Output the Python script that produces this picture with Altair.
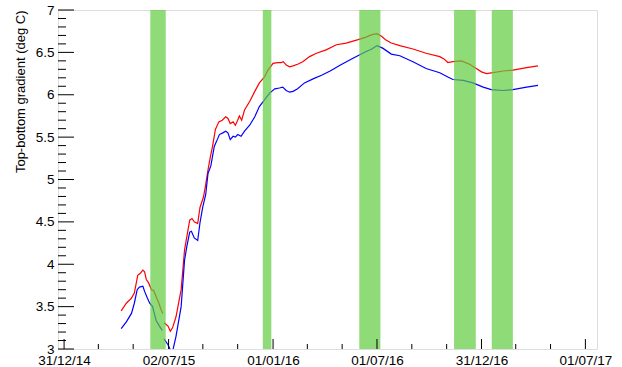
import altair as alt
import pandas as pd

# ---- temperature gradient series (deg C) ----
# upper curve (red), two pieces separated by a short data gap
top_dates_a = ["2015-04-10", "2015-04-19", "2015-04-28", "2015-05-03", "2015-05-09",
               "2015-05-13", "2015-05-18", "2015-05-21", "2015-05-24", "2015-05-28",
               "2015-06-02", "2015-06-06", "2015-06-10", "2015-06-15", "2015-06-19",
               "2015-06-22"]
top_vals_a = [3.45, 3.54, 3.60, 3.66, 3.87, 3.89, 3.93, 3.91, 3.82, 3.78,
              3.70, 3.69, 3.62, 3.54, 3.46, 3.42]

top_dates_b = ["2015-06-24", "2015-07-01", "2015-07-05", "2015-07-09", "2015-07-15",
               "2015-07-24", "2015-07-30", "2015-08-08", "2015-08-12", "2015-08-16",
               "2015-08-22", "2015-08-26", "2015-09-01", "2015-09-05", "2015-09-09",
               "2015-09-13", "2015-09-17", "2015-09-22", "2015-09-28", "2015-10-04",
               "2015-10-10", "2015-10-14", "2015-10-18", "2015-10-23", "2015-10-27",
               "2015-10-31", "2015-11-03", "2015-11-07", "2015-11-12", "2015-11-21",
               "2015-11-30", "2015-12-08", "2015-12-17", "2015-12-23", "2016-01-01",
               "2016-01-09", "2016-01-15", "2016-01-19", "2016-01-24", "2016-01-30",
               "2016-02-05", "2016-02-13", "2016-02-22", "2016-03-05", "2016-03-17",
               "2016-04-03", "2016-04-21", "2016-05-08", "2016-05-29", "2016-06-12",
               "2016-06-22", "2016-07-01", "2016-07-09", "2016-07-16", "2016-07-26",
               "2016-08-10", "2016-09-02", "2016-09-25", "2016-10-19", "2016-10-27",
               "2016-11-02", "2016-11-11", "2016-11-26", "2016-12-10", "2016-12-22",
               "2016-12-31", "2017-01-09", "2017-01-20", "2017-02-07", "2017-02-24",
               "2017-03-20", "2017-04-09"]
top_vals_b = [3.31, 3.27, 3.21, 3.25, 3.38, 3.70, 4.17, 4.52, 4.54, 4.50,
              4.48, 4.67, 4.79, 4.94, 5.11, 5.26, 5.39, 5.59, 5.68, 5.70,
              5.74, 5.72, 5.66, 5.68, 5.64, 5.70, 5.75, 5.70, 5.82, 5.92,
              6.04, 6.14, 6.21, 6.29, 6.37, 6.38, 6.38, 6.39, 6.35, 6.33,
              6.34, 6.36, 6.39, 6.45, 6.49, 6.53, 6.59, 6.61, 6.65, 6.68,
              6.71, 6.72, 6.69, 6.65, 6.61, 6.58, 6.54, 6.49, 6.45, 6.42,
              6.38, 6.39, 6.40, 6.36, 6.31, 6.27, 6.25, 6.26, 6.28, 6.29,
              6.32, 6.34]

# lower curve (blue)
bot_dates_a = ["2015-04-10", "2015-04-19", "2015-04-28", "2015-05-03", "2015-05-08",
               "2015-05-12", "2015-05-18", "2015-05-21", "2015-05-26", "2015-05-30",
               "2015-06-04", "2015-06-07", "2015-06-10", "2015-06-16", "2015-06-21"]
bot_vals_a = [3.24, 3.32, 3.42, 3.54, 3.70, 3.73, 3.74, 3.68, 3.60, 3.54,
              3.50, 3.42, 3.34, 3.27, 3.22]

bot_dates_b = ["2015-06-24", "2015-07-01", "2015-07-05", "2015-07-09", "2015-07-15",
               "2015-07-24", "2015-07-30", "2015-08-03", "2015-08-08", "2015-08-11",
               "2015-08-16", "2015-08-22", "2015-08-26", "2015-08-31", "2015-09-05",
               "2015-09-09", "2015-09-14", "2015-09-20", "2015-09-24", "2015-09-29",
               "2015-10-05", "2015-10-10", "2015-10-14", "2015-10-18", "2015-10-23",
               "2015-10-27", "2015-10-31", "2015-11-06", "2015-11-12", "2015-11-21",
               "2015-11-30", "2015-12-08", "2015-12-17", "2015-12-26", "2016-01-04",
               "2016-01-12", "2016-01-18", "2016-01-24", "2016-01-30", "2016-02-05",
               "2016-02-13", "2016-02-25", "2016-03-12", "2016-03-26", "2016-04-10",
               "2016-04-28", "2016-05-20", "2016-06-12", "2016-06-22", "2016-07-01",
               "2016-07-11", "2016-07-26", "2016-08-10", "2016-09-02", "2016-09-25",
               "2016-10-19", "2016-11-02", "2016-11-11", "2016-11-29", "2016-12-16",
               "2017-01-03", "2017-01-17", "2017-02-07", "2017-02-24", "2017-03-20",
               "2017-04-09"]
bot_vals_b = [3.12, 3.05, 2.99, 2.97, 3.15, 3.50, 4.05, 4.21, 4.38, 4.39,
              4.31, 4.28, 4.49, 4.68, 4.82, 5.07, 5.16, 5.39, 5.45, 5.53,
              5.55, 5.57, 5.55, 5.47, 5.51, 5.50, 5.53, 5.51, 5.57, 5.64,
              5.74, 5.86, 5.94, 6.02, 6.07, 6.08, 6.09, 6.05, 6.03, 6.04,
              6.07, 6.14, 6.19, 6.23, 6.28, 6.35, 6.43, 6.51, 6.54, 6.58,
              6.55, 6.48, 6.46, 6.39, 6.31, 6.26, 6.21, 6.18, 6.17, 6.14,
              6.09, 6.06, 6.05, 6.06, 6.09, 6.11]

# highlighted periods
band_start = ["2015-05-31", "2015-12-14", "2016-05-31", "2016-11-13", "2017-01-18"]
band_end = ["2015-06-27", "2015-12-29", "2016-07-07", "2016-12-21", "2017-02-24"]

# axis ticks
x_label_dates = ["2014-12-31", "2015-07-02", "2016-01-01", "2016-07-01", "2016-12-31", "2017-07-01"]
x_minor_dates = ["2015-03-01", "2015-05-01", "2015-08-31", "2015-10-31", "2016-03-01",
                 "2016-05-01", "2016-08-31", "2016-10-31", "2017-03-01", "2017-05-01"]
y_major = [3.0, 3.5, 4.0, 4.5, 5.0, 5.5, 6.0, 6.5, 7.0]
y_minor = [3.1, 3.2, 3.3, 3.4, 3.6, 3.7, 3.8, 3.9, 4.1, 4.2, 4.3, 4.4,
           4.6, 4.7, 4.8, 4.9, 5.1, 5.2, 5.3, 5.4, 5.6, 5.7, 5.8, 5.9,
           6.1, 6.2, 6.3, 6.4, 6.6, 6.7, 6.8, 6.9]

W, H = 539, 339
FONT = "Liberation Sans"

rows = []
for name, seg, ds, vs in [("top", "a", top_dates_a, top_vals_a), ("top", "b", top_dates_b, top_vals_b),
                          ("bottom", "a", bot_dates_a, bot_vals_a), ("bottom", "b", bot_dates_b, bot_vals_b)]:
    for d, v in zip(ds, vs):
        rows.append({"date": d, "value": v, "series": name, "seg": name + seg})
lines_df = pd.DataFrame(rows)
bands_df = pd.DataFrame({"start": band_start, "end": band_end})


def dt(s):
    y, m, d = (int(p) for p in s.split("-"))
    return alt.DateTime(year=y, month=m, date=d, utc=True)


xscale = alt.Scale(type="utc", domain=[alt.DateTime(year=2014, month=12, date=20, hours=8, utc=True),
                                       alt.DateTime(year=2017, month=7, date=21, hours=8, utc=True)])
yscale = alt.Scale(domain=[3, 7], zero=False, nice=False)

x_axis = alt.Axis(values=[dt(s) for s in x_label_dates], format="%d/%m/%y", ticks=False, grid=False,
                  domain=False, labelFont=FONT, labelFontSize=13.5, labelColor="black",
                  labelPadding=4, labelOverlap=False, labelFlush=False, title=None)
y_axis = alt.Axis(values=y_major, format=".1~f", ticks=False, grid=False, domain=False,
                  labelFont=FONT, labelFontSize=13.5, labelColor="black", labelPadding=4,
                  title="Top-bottom gradient (deg C)", titleFont=FONT, titleFontSize=13,
                  titleFontWeight="normal", titleColor="black", titleX=-34, titleY=0,
                  titleAngle=270, titleAlign="right", titleBaseline="alphabetic")

lines = alt.Chart(lines_df).mark_line(strokeWidth=1.2, clip=True).encode(
    x=alt.X("date:T", scale=xscale, axis=x_axis),
    y=alt.Y("value:Q", scale=yscale, axis=y_axis),
    color=alt.Color("series:N", scale=alt.Scale(domain=["top", "bottom"], range=["#ff0000", "#0000ff"]),
                    legend=None),
    detail="seg:N",
)

bands = alt.Chart(bands_df).mark_rect(color="#5fcc3f", opacity=0.7).encode(
    x=alt.X("start:T", scale=xscale, axis=x_axis),
    x2="end:T",
    y=alt.value(0),
    y2=alt.value(H),
)

ymaj = alt.Chart(pd.DataFrame({"v": y_major})).mark_rule(color="black", strokeWidth=1).encode(
    y=alt.Y("v:Q", scale=yscale, axis=y_axis), x=alt.value(0), x2=alt.value(16))
ymin = alt.Chart(pd.DataFrame({"v": y_minor})).mark_rule(color="black", strokeWidth=1).encode(
    y=alt.Y("v:Q", scale=yscale, axis=y_axis), x=alt.value(0), x2=alt.value(8))
xmaj = alt.Chart(pd.DataFrame({"d": x_label_dates})).mark_rule(color="black", strokeWidth=1).encode(
    x=alt.X("d:T", scale=xscale, axis=x_axis), y=alt.value(H - 10), y2=alt.value(H))
xmin = alt.Chart(pd.DataFrame({"d": x_minor_dates})).mark_rule(color="black", strokeWidth=1).encode(
    x=alt.X("d:T", scale=xscale, axis=x_axis), y=alt.value(H - 5), y2=alt.value(H))

chart = alt.layer(lines, bands, ymaj, ymin, xmaj, xmin).properties(
    width=W, height=H,
    autosize=alt.AutoSizeParams(type="none"),
    padding={"left": 58, "top": 10, "right": 25, "bottom": 18},
).configure_view(stroke="#555555", strokeWidth=1).configure(background="white")

chart.save("out.html", embed_options={"renderer": "svg", "actions": False})
